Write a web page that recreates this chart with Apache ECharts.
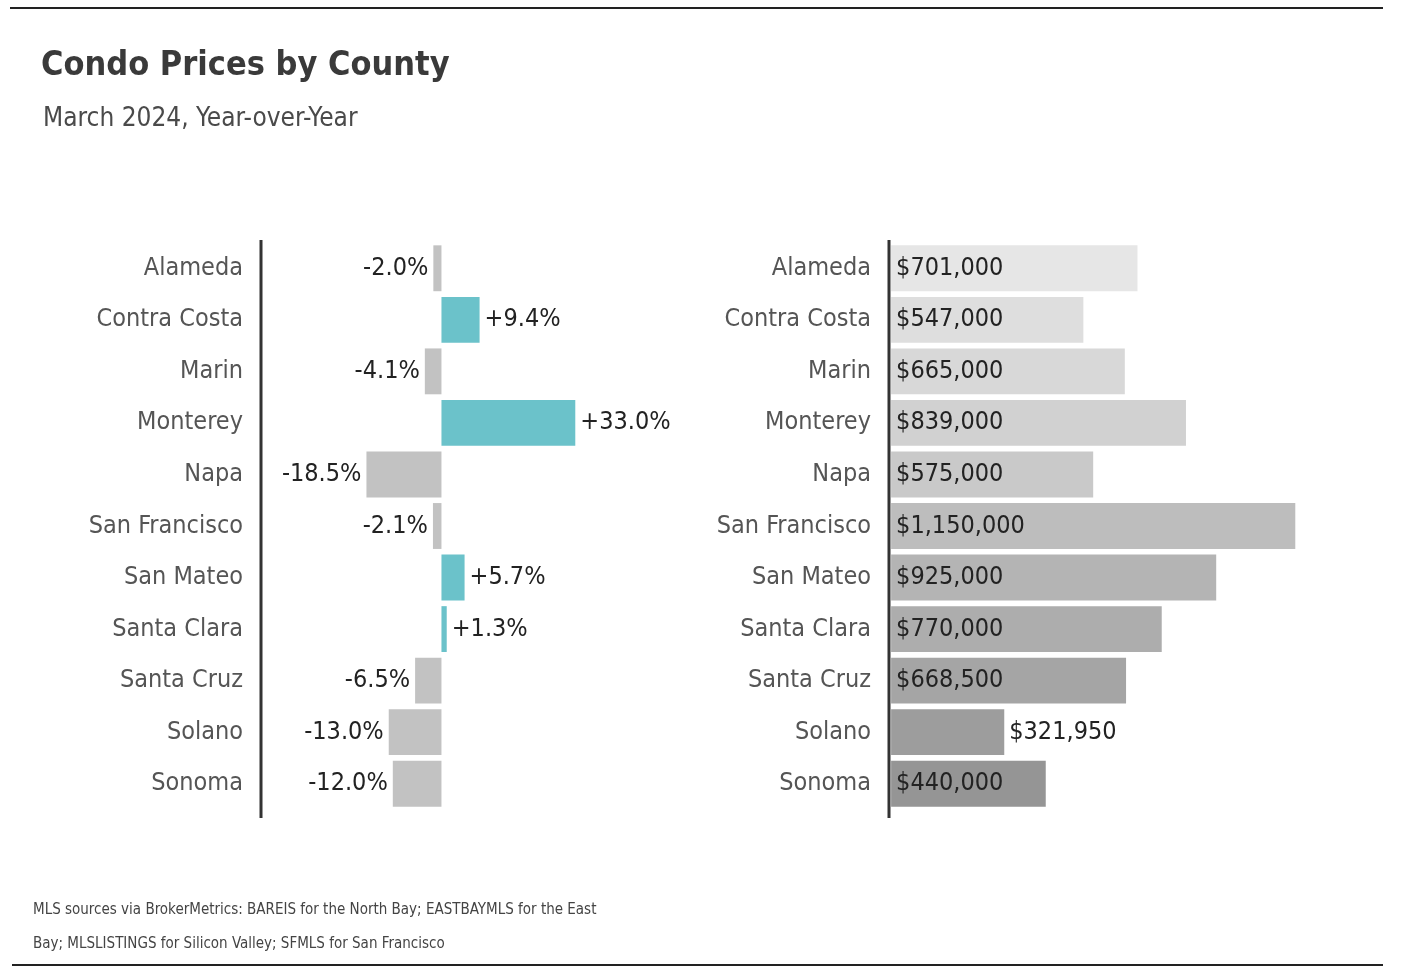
<!DOCTYPE html>
<html><head><meta charset="utf-8">
<script src="https://cdn.jsdelivr.net/npm/echarts@6/dist/echarts.min.js"></script>
<style>html,body{margin:0;padding:0;background:#fff}#c{width:1406px;height:978px}</style>
</head><body><div id="c"></div>
<script>
const counties = ['Alameda','Contra Costa','Marin','Monterey','Napa','San Francisco','San Mateo','Santa Clara','Santa Cruz','Solano','Sonoma'];
const yoyChange = [-2.0, 9.4, -4.1, 33.0, -18.5, -2.1, 5.7, 1.3, -6.5, -13.0, -12.0];
const medianPrice = [701000, 547000, 665000, 839000, 575000, 1150000, 925000, 770000, 668500, 321950, 440000];
const priceShades = ['#e6e6e6','#dedede','#d8d8d8','#d1d1d1','#c9c9c9','#bdbdbd','#b4b4b4','#adadad','#a5a5a5','#9d9d9d','#959595'];

const FONT = '"Liberation Sans Narrow","DejaVu Sans Condensed","Roboto",sans-serif';
const chart = echarts.init(document.getElementById('c'));

const fmtPct = v => (v > 0 ? '+' : '') + v.toFixed(1) + '%';
const fmtUSD = v => '$' + v.toLocaleString('en-US');

const labelBase = {show: true, fontFamily: FONT, fontSize: 25, color: '#222', distance: 5};
const GRID_TOP = 242.5, GRID_H = 567;

chart.setOption({
  animation: false,
  backgroundColor: '#fff',
  title: [
    {text: 'Condo Prices by County', left: 36, top: 44, textStyle: {fontFamily: FONT, fontSize: 34, fontWeight: 'bold', color: '#3a3a3a'}},
    {text: 'March 2024, Year-over-Year', left: 38, top: 101, textStyle: {fontFamily: FONT, fontSize: 26, fontWeight: 'normal', color: '#4a4a4a'}},
    {text: 'MLS sources via BrokerMetrics: BAREIS for the North Bay; EASTBAYMLS for the East\nBay; MLSLISTINGS for Silicon Valley; SFMLS for San Francisco',
     left: 28, top: 888, textStyle: {fontFamily: FONT, fontSize: 15, fontWeight: 'normal', color: '#444', lineHeight: 34}}
  ],
  grid: [
    {left: 261, top: GRID_TOP, width: 440, height: GRID_H},
    {left: 889, top: GRID_TOP, width: 459, height: GRID_H}
  ],
  xAxis: [
    {gridIndex: 0, type: 'value', min: -44.5, max: 64, show: false},
    {gridIndex: 1, type: 'value', min: -6000, max: 1300000, show: false}
  ],
  yAxis: [
    {gridIndex: 0, type: 'category', data: counties, inverse: true,
     axisLine: {show: false},
     axisTick: {show: false},
     axisLabel: {fontFamily: FONT, fontSize: 25, color: '#555', margin: 18}},
    {gridIndex: 1, type: 'category', data: counties, inverse: true,
     axisLine: {show: false},
     axisTick: {show: false},
     axisLabel: {fontFamily: FONT, fontSize: 25, color: '#555', margin: 18}}
  ],
  series: [
    {type: 'bar', xAxisIndex: 0, yAxisIndex: 0, barWidth: '89%',
     data: yoyChange.map(v => ({
       value: v,
       itemStyle: {color: v > 0 ? '#6bc2ca' : '#c2c2c2'},
       label: Object.assign({}, labelBase, {position: v > 0 ? 'right' : 'left', formatter: p => fmtPct(p.value)})
     }))},
    {type: 'bar', xAxisIndex: 1, yAxisIndex: 1, barWidth: '89%',
     data: medianPrice.map((v, i) => ({
       value: v,
       itemStyle: {color: priceShades[i]},
       label: Object.assign({}, labelBase, {position: v < 400000 ? 'right' : 'insideLeft', distance: 5, formatter: p => fmtUSD(p.value)})
     }))}
  ]
});

// axis spines (slightly taller than the category band) at each grid's x-axis minimum
const x0 = chart.convertToPixel({gridIndex: 0}, [-44.5, 0])[0];
const x1 = chart.convertToPixel({gridIndex: 1}, [-6000, 0])[0];
chart.setOption({
  graphic: [
    {type: 'line', shape: {x1: 10, y1: 8, x2: 1383, y2: 8}, style: {stroke: '#222', lineWidth: 2}},
    {type: 'line', shape: {x1: 12, y1: 965, x2: 1383, y2: 965}, style: {stroke: '#222', lineWidth: 2}},
    {type: 'line', shape: {x1: x0, y1: 240, x2: x0, y2: 818}, style: {stroke: '#333', lineWidth: 3}},
    {type: 'line', shape: {x1: x1, y1: 240, x2: x1, y2: 818}, style: {stroke: '#333', lineWidth: 3}}
  ]
});
</script></body></html>
